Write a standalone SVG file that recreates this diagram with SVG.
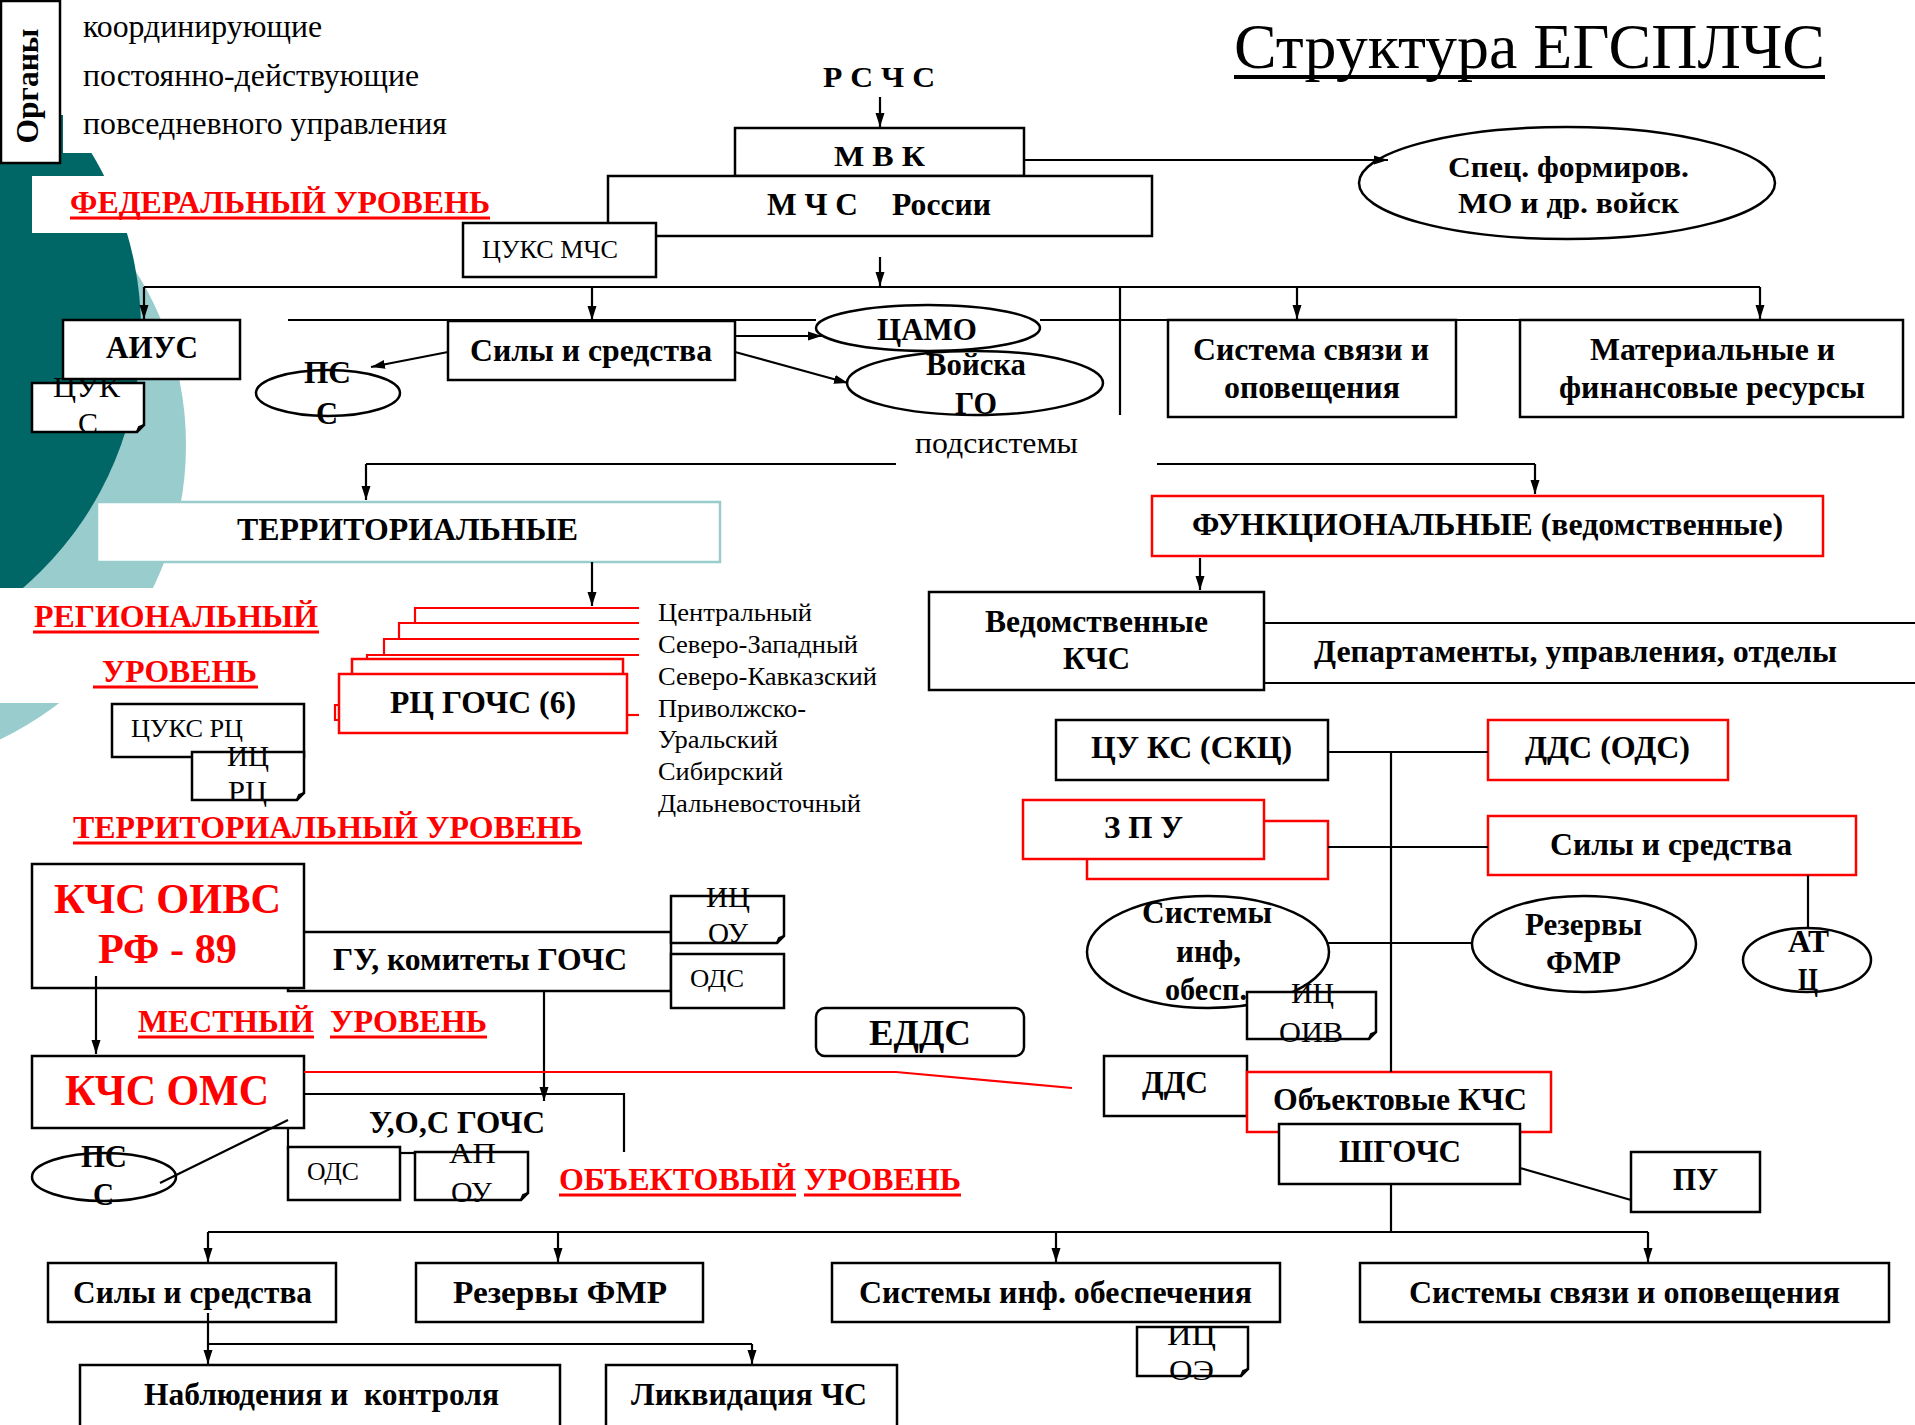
<svg xmlns="http://www.w3.org/2000/svg" width="1915" height="1425" viewBox="0 0 1915 1425">
<defs>
<style>
text{font-family:"Liberation Serif","Times New Roman",serif;font-weight:bold;font-size:31px;fill:#000}
.n{font-weight:normal}
.rd{fill:#f00}
.s26{font-size:26px}
.s30{font-size:30px}
.s32{font-size:32px}
.s36{font-size:36px}
.s42{font-size:42px}
.s44{font-size:44px}
.s64{font-size:64px}
.b{fill:#fff;stroke:#000;stroke-width:2.5}
.r{fill:#fff;stroke:#f00;stroke-width:2.5}
.tb{fill:#fff;stroke:#99cccc;stroke-width:2.5}
.c{fill:none;stroke:#000;stroke-width:2.2}
.cr{fill:none;stroke:#f00;stroke-width:2.2}
.a{marker-end:url(#ah)}
.u{stroke:#f00;stroke-width:3}
</style>
<marker id="ah" markerWidth="14" markerHeight="10" refX="14" refY="5" orient="auto" markerUnits="userSpaceOnUse"><path d="M0,0.5 L14,5 L0,9.5 Z" fill="#000"/></marker>
<clipPath id="cl"><rect x="0" y="153" width="400" height="435"/></clipPath>
</defs>

<g id="background">
<rect width="1915" height="1425" fill="#fff"/>
<circle cx="-140" cy="445" r="326" fill="#99cccc"/>
<circle cx="-200" cy="330" r="341" fill="#006666" clip-path="url(#cl)"/>
<rect x="55" y="115" width="8" height="40" fill="#006666"/>
<rect x="32" y="176" width="140" height="57" fill="#fff"/>
<rect x="0" y="588" width="220" height="115" fill="#fff"/>
</g>

<g id="organy"><rect class="b" x="1" y="1" width="59" height="162"/><text transform="translate(38,86) rotate(-90)" text-anchor="middle" textLength="115" lengthAdjust="spacingAndGlyphs">Органы</text></g>
<g id="legend">
<text class="n" x="83" y="37" textLength="239" lengthAdjust="spacingAndGlyphs">координирующие</text>
<text class="n" x="83" y="86" textLength="336" lengthAdjust="spacingAndGlyphs">постоянно-действующие</text>
<text class="n" x="83" y="134" textLength="364" lengthAdjust="spacingAndGlyphs">повседневного управления</text>
</g>
<g id="title"><text class="n s64" x="1234" y="68" textLength="591" lengthAdjust="spacingAndGlyphs">Структура ЕГСПЛЧС</text><line x1="1234" y1="77" x2="1825" y2="77" stroke="#000" stroke-width="4"/></g>

<g id="level-labels">
<text class="rd" x="70" y="213" textLength="420" lengthAdjust="spacingAndGlyphs">ФЕДЕРАЛЬНЫЙ УРОВЕНЬ</text><line class="u" x1="70" y1="218" x2="490" y2="218"/>
<text class="rd s32" x="34" y="627" textLength="284" lengthAdjust="spacingAndGlyphs">РЕГИОНАЛЬНЫЙ</text><line class="u" x1="33" y1="632" x2="319" y2="632"/>
<text class="rd s32" x="102" y="682" textLength="155" lengthAdjust="spacingAndGlyphs">УРОВЕНЬ</text><line class="u" x1="93" y1="687" x2="258" y2="687"/>
<text class="rd" x="73" y="838" textLength="509" lengthAdjust="spacingAndGlyphs">ТЕРРИТОРИАЛЬНЫЙ УРОВЕНЬ</text><line class="u" x1="73" y1="843" x2="582" y2="843"/>
<text class="rd" x="138" y="1032" textLength="176" lengthAdjust="spacingAndGlyphs">МЕСТНЫЙ</text><line class="u" x1="138" y1="1037" x2="314" y2="1037"/>
<text class="rd" x="330" y="1032" textLength="157" lengthAdjust="spacingAndGlyphs">УРОВЕНЬ</text><line class="u" x1="330" y1="1037" x2="487" y2="1037"/>
<text class="rd" x="559" y="1190" textLength="237" lengthAdjust="spacingAndGlyphs">ОБЪЕКТОВЫЙ</text><line class="u" x1="559" y1="1195" x2="796" y2="1195"/>
<text class="rd" x="804" y="1190" textLength="157" lengthAdjust="spacingAndGlyphs">УРОВЕНЬ</text><line class="u" x1="804" y1="1195" x2="961" y2="1195"/>
</g>

<g id="rschs"><text class="s30" x="823" y="87" textLength="112" lengthAdjust="spacingAndGlyphs">Р С Ч С</text></g>
<g id="mvk"><rect class="b" x="735" y="128" width="289" height="48"/><text class="s30" x="834" y="166" textLength="91" lengthAdjust="spacingAndGlyphs">М В К</text></g>
<g id="mchs"><rect class="b" x="608" y="176" width="544" height="60"/><text x="767" y="215" textLength="91" lengthAdjust="spacingAndGlyphs">М Ч С</text><text x="892" y="215" textLength="99" lengthAdjust="spacingAndGlyphs">России</text></g>
<g id="cuks-mchs"><rect class="b" x="463" y="223" width="193" height="54"/><text class="n s26" x="482" y="258" textLength="136" lengthAdjust="spacingAndGlyphs">ЦУКС МЧС</text></g>
<g id="spec"><ellipse class="b" cx="1567" cy="183" rx="208" ry="56"/><text class="s30" x="1448" y="177" textLength="241" lengthAdjust="spacingAndGlyphs">Спец. формиров.</text><text class="s30" x="1458" y="213" textLength="221" lengthAdjust="spacingAndGlyphs">МО и др. войск</text></g>

<g id="aius"><rect class="b" x="63" y="320" width="177" height="59"/><text x="106" y="358" textLength="92" lengthAdjust="spacingAndGlyphs">АИУС</text></g>
<g id="cuks"><path class="b" d="M32,383 H144 V425 L137,432 H32 Z"/><path class="c" d="M137,432 L139,427 L144,425"/><text class="n s30" x="53" y="397" textLength="67" lengthAdjust="spacingAndGlyphs">ЦУК</text><text class="n s30" x="78" y="433" textLength="20" lengthAdjust="spacingAndGlyphs">С</text></g>
<g id="pss-top"><ellipse class="b" cx="328" cy="393" rx="72" ry="23"/><text x="304" y="383" textLength="47" lengthAdjust="spacingAndGlyphs">ПС</text><text x="316" y="424" textLength="22" lengthAdjust="spacingAndGlyphs">С</text></g>
<g id="sily-top"><rect class="b" x="448" y="321" width="287" height="59"/><text x="470" y="361" textLength="242" lengthAdjust="spacingAndGlyphs">Силы и средства</text></g>
<g id="camo"><ellipse class="b" cx="928" cy="328" rx="112" ry="23"/><text x="877" y="340" textLength="100" lengthAdjust="spacingAndGlyphs">ЦАМО</text></g>
<g id="voyska"><ellipse class="b" cx="975" cy="383" rx="128" ry="32"/><text x="926" y="375" textLength="100" lengthAdjust="spacingAndGlyphs">Войска</text><text x="955" y="414" textLength="42" lengthAdjust="spacingAndGlyphs">ГО</text></g>
<g id="sistema-svyazi"><rect class="b" x="1168" y="320" width="288" height="97"/><text x="1193" y="360" textLength="236" lengthAdjust="spacingAndGlyphs">Система связи и</text><text x="1224" y="398" textLength="176" lengthAdjust="spacingAndGlyphs">оповещения</text></g>
<g id="material"><rect class="b" x="1520" y="320" width="383" height="97"/><text x="1590" y="360" textLength="245" lengthAdjust="spacingAndGlyphs">Материальные и</text><text x="1559" y="398" textLength="306" lengthAdjust="spacingAndGlyphs">финансовые ресурсы</text></g>

<g id="podsistemy"><text class="n s30" x="915" y="453" textLength="163" lengthAdjust="spacingAndGlyphs">подсистемы</text></g>
<g id="territ"><rect class="tb" x="97" y="502" width="623" height="60"/><text x="237" y="540" textLength="341" lengthAdjust="spacingAndGlyphs">ТЕРРИТОРИАЛЬНЫЕ</text></g>
<g id="rc-gochs">
<path class="cr" d="M415,623 V608 H639 M399,639 V623 H639 M384,655 V639 H639 M367,659 V655 H639"/>
<path class="r" d="M352,674 V659 H623 V674"/>
<rect class="r" x="339" y="674" width="288" height="59"/>
<path class="cr" d="M339,705 H335 V720 H339"/>
<text x="390" y="713" textLength="186" lengthAdjust="spacingAndGlyphs">РЦ ГОЧС (6)</text>
</g>
<g id="regions">
<text class="n s26" x="658" y="621" textLength="154" lengthAdjust="spacingAndGlyphs">Центральный</text>
<text class="n s26" x="658" y="653" textLength="200" lengthAdjust="spacingAndGlyphs">Северо-Западный</text>
<text class="n s26" x="658" y="685" textLength="219" lengthAdjust="spacingAndGlyphs">Северо-Кавказский</text>
<text class="n s26" x="658" y="717" textLength="148" lengthAdjust="spacingAndGlyphs">Приволжско-</text>
<text class="n s26" x="658" y="748" textLength="120" lengthAdjust="spacingAndGlyphs">Уральский</text>
<text class="n s26" x="658" y="780" textLength="125" lengthAdjust="spacingAndGlyphs">Сибирский</text>
<text class="n s26" x="658" y="812" textLength="203" lengthAdjust="spacingAndGlyphs">Дальневосточный</text>
</g>
<g id="cuks-rc"><rect class="b" x="112" y="704" width="192" height="53"/><text class="n s26" x="131" y="737" textLength="112" lengthAdjust="spacingAndGlyphs">ЦУКС РЦ</text></g>
<g id="ic-rc"><path class="b" d="M192,752 H304 V793 L297,800 H192 Z"/><path class="c" d="M297,800 L299,795 L304,793"/><text class="n s30" x="227" y="766" textLength="42" lengthAdjust="spacingAndGlyphs">ИЦ</text><text class="n s30" x="228" y="801" textLength="39" lengthAdjust="spacingAndGlyphs">РЦ</text></g>

<g id="gu"><rect class="b" x="288" y="932" width="383" height="59"/><text x="333" y="970" textLength="294" lengthAdjust="spacingAndGlyphs">ГУ, комитеты ГОЧС</text></g>
<g id="kchs-oivs"><rect class="b" x="32" y="864" width="272" height="124"/><text class="rd s42" x="54" y="913" textLength="227" lengthAdjust="spacingAndGlyphs">КЧС ОИВС</text><text class="rd s42" x="98" y="963" textLength="139" lengthAdjust="spacingAndGlyphs">РФ - 89</text></g>
<g id="ic-ou"><path class="b" d="M671,896 H784 V936 L777,943 H671 Z"/><path class="c" d="M777,943 L779,938 L784,936"/><text class="n s30" x="706" y="907" textLength="44" lengthAdjust="spacingAndGlyphs">ИЦ</text><text class="n s30" x="708" y="943" textLength="40" lengthAdjust="spacingAndGlyphs">ОУ</text></g>
<g id="ods-top"><rect class="b" x="671" y="954" width="113" height="54"/><text class="n s26" x="690" y="987" textLength="54" lengthAdjust="spacingAndGlyphs">ОДС</text></g>
<g id="uos"><path class="c" stroke-width="2.5" d="M288,1150 V1094 H624 V1152"/><text x="369" y="1133" textLength="176" lengthAdjust="spacingAndGlyphs">У,О,С ГОЧС</text></g>
<g id="kchs-oms"><rect class="b" x="32" y="1056" width="272" height="72"/><text class="rd s44" x="65" y="1105" textLength="204" lengthAdjust="spacingAndGlyphs">КЧС ОМС</text></g>
<g id="pss-bottom"><ellipse class="b" cx="104" cy="1177" rx="72" ry="24"/><text x="81" y="1167" textLength="46" lengthAdjust="spacingAndGlyphs">ПС</text><text x="93" y="1205" textLength="21" lengthAdjust="spacingAndGlyphs">С</text></g>
<g id="ods-bottom"><rect class="b" x="288" y="1147" width="112" height="53"/><text class="n s26" x="307" y="1180" textLength="52" lengthAdjust="spacingAndGlyphs">ОДС</text></g>
<g id="ap-ou"><path class="b" d="M415,1152 H528 V1193 L521,1200 H415 Z"/><path class="c" d="M521,1200 L523,1195 L528,1193"/><text class="n s30" x="449" y="1163" textLength="47" lengthAdjust="spacingAndGlyphs">АП</text><text class="n s30" x="451" y="1202" textLength="41" lengthAdjust="spacingAndGlyphs">ОУ</text></g>
<g id="edds"><rect class="b" x="816" y="1008" width="208" height="48" rx="9"/><text class="s36" x="869" y="1045" textLength="102" lengthAdjust="spacingAndGlyphs">ЕДДС</text></g>

<g id="funk"><rect class="r" x="1152" y="496" width="671" height="60"/><text x="1192" y="535" textLength="591" lengthAdjust="spacingAndGlyphs">ФУНКЦИОНАЛЬНЫЕ (ведомственные)</text></g>
<g id="vedom"><rect class="b" x="929" y="592" width="335" height="98"/><text x="985" y="632" textLength="223" lengthAdjust="spacingAndGlyphs">Ведомственные</text><text x="1063" y="669" textLength="67" lengthAdjust="spacingAndGlyphs">КЧС</text></g>
<g id="departamenty"><path class="c" stroke-width="2.5" d="M1264,623 H1915 M1264,683 H1915"/><text x="1314" y="662" textLength="523" lengthAdjust="spacingAndGlyphs">Департаменты, управления, отделы</text></g>
<g id="cu-ks"><rect class="b" x="1056" y="720" width="272" height="60"/><text x="1091" y="758" textLength="201" lengthAdjust="spacingAndGlyphs">ЦУ КС (СКЦ)</text></g>
<g id="dds-ods"><rect class="r" x="1488" y="720" width="240" height="60"/><text x="1525" y="758" textLength="165" lengthAdjust="spacingAndGlyphs">ДДС (ОДС)</text></g>
<g id="zpu"><rect class="r" x="1087" y="821" width="241" height="58"/><rect class="r" x="1023" y="800" width="241" height="59"/><text x="1104" y="838" textLength="79" lengthAdjust="spacingAndGlyphs">З П У</text></g>
<g id="sily-right"><rect class="r" x="1488" y="816" width="368" height="59"/><text x="1550" y="855" textLength="242" lengthAdjust="spacingAndGlyphs">Силы и средства</text></g>
<g id="atc"><ellipse class="b" cx="1807" cy="960" rx="64" ry="32"/><text x="1788" y="952" textLength="41" lengthAdjust="spacingAndGlyphs">АТ</text><text x="1798" y="990" textLength="20" lengthAdjust="spacingAndGlyphs">Ц</text></g>
<g id="sistemy-inf"><ellipse class="b" cx="1208" cy="952" rx="121" ry="56"/><text x="1142" y="923" textLength="130" lengthAdjust="spacingAndGlyphs">Системы</text><text x="1176" y="962" textLength="65" lengthAdjust="spacingAndGlyphs">инф,</text><text x="1165" y="1000" textLength="82" lengthAdjust="spacingAndGlyphs">обесп.</text></g>
<g id="ic-oiv"><path class="b" d="M1247,992 H1376 V1032 L1369,1039 H1247 Z"/><path class="c" d="M1369,1039 L1371,1034 L1376,1032"/><text class="n s30" x="1291" y="1003" textLength="43" lengthAdjust="spacingAndGlyphs">ИЦ</text><text class="n s30" x="1279" y="1042" textLength="64" lengthAdjust="spacingAndGlyphs">ОИВ</text></g>
<g id="rezervy-right"><ellipse class="b" cx="1584" cy="944" rx="112" ry="48"/><text x="1525" y="935" textLength="117" lengthAdjust="spacingAndGlyphs">Резервы</text><text x="1546" y="973" textLength="75" lengthAdjust="spacingAndGlyphs">ФМР</text></g>
<g id="dds-bottom"><rect class="b" x="1104" y="1056" width="143" height="60"/><text x="1142" y="1093" textLength="66" lengthAdjust="spacingAndGlyphs">ДДС</text></g>
<g id="obj-kchs"><rect class="r" x="1247" y="1072" width="304" height="60"/><text x="1273" y="1110" textLength="254" lengthAdjust="spacingAndGlyphs">Объектовые КЧС</text></g>
<g id="shgochs"><rect class="b" x="1279" y="1124" width="241" height="60"/><text x="1339" y="1162" textLength="122" lengthAdjust="spacingAndGlyphs">ШГОЧС</text></g>
<g id="pu"><rect class="b" x="1631" y="1152" width="129" height="60"/><text x="1673" y="1190" textLength="45" lengthAdjust="spacingAndGlyphs">ПУ</text></g>

<g id="sily-bottom"><rect class="b" x="48" y="1263" width="288" height="59"/><text x="73" y="1303" textLength="239" lengthAdjust="spacingAndGlyphs">Силы и средства</text></g>
<g id="rezervy-bottom"><rect class="b" x="416" y="1263" width="287" height="59"/><text x="453" y="1303" textLength="214" lengthAdjust="spacingAndGlyphs">Резервы ФМР</text></g>
<g id="sistemy-inf-bottom"><rect class="b" x="832" y="1263" width="448" height="59"/><text x="859" y="1303" textLength="393" lengthAdjust="spacingAndGlyphs">Системы инф. обеспечения</text></g>
<g id="sistemy-svyazi-bottom"><rect class="b" x="1360" y="1263" width="529" height="59"/><text x="1409" y="1303" textLength="431" lengthAdjust="spacingAndGlyphs">Системы связи и оповещения</text></g>
<g id="ic-oe"><path class="b" d="M1137,1327 H1248 V1369 L1241,1376 H1137 Z"/><path class="c" d="M1241,1376 L1243,1371 L1248,1369"/><text class="n s30" x="1167" y="1345" textLength="49" lengthAdjust="spacingAndGlyphs">ИЦ</text><text class="n s30" x="1169" y="1380" textLength="45" lengthAdjust="spacingAndGlyphs">ОЭ</text></g>
<g id="nablyudeniya"><rect class="b" x="80" y="1365" width="480" height="70"/><text x="144" y="1405" textLength="355" lengthAdjust="spacingAndGlyphs">Наблюдения и&#160; контроля</text></g>
<g id="likvidaciya"><rect class="b" x="606" y="1365" width="291" height="70"/><text x="631" y="1405" textLength="236" lengthAdjust="spacingAndGlyphs">Ликвидация ЧС</text></g>

<g id="connectors">
<path class="c a" d="M880,97 V127"/>
<path class="c a" d="M1024,160 H1388"/>
<path class="c a" d="M880,257 V286"/>
<path class="c" d="M144,287 H1760"/>
<path class="c a" d="M144,287 V319"/>
<path class="c a" d="M592,287 V320"/>
<path class="c a" d="M1297,287 V319"/>
<path class="c a" d="M1760,287 V319"/>
<path class="c" d="M1120,287 V415"/>
<path class="c" d="M288,320 H816 M1040,320 H1822"/>
<path class="c a" d="M448,352 L371,367"/>
<path class="c a" d="M735,336 H822"/>
<path class="c a" d="M735,352 L848,383"/>
<path class="c" d="M366,464 H896 M1157,464 H1535"/>
<path class="c a" d="M366,464 V500"/>
<path class="c a" d="M1535,464 V494"/>
<path class="c a" d="M592,562 V606"/>
<path class="cr" d="M627,715 H639"/>
<path class="c a" d="M1200,558 V590"/>
<path class="c a" d="M96,976 V1054"/>
<path class="c a" d="M544,992 V1101"/>
<path class="c" d="M400,1153 H415"/>
<path class="cr" d="M304,1072 H896 L1072,1088"/>
<path class="c" d="M160,1183 L288,1120"/>
<path class="c" d="M1328,752 H1488"/>
<path class="c" d="M1391,752 V1072"/>
<path class="c" d="M1328,847 H1488"/>
<path class="c" d="M1328,943 H1472"/>
<path class="c" d="M1808,875 V928"/>
<path class="c" d="M1520,1168 L1631,1200"/>
<path class="c" d="M1391,1184 V1232"/>
<path class="c" d="M208,1232 H1648"/>
<path class="c a" d="M208,1232 V1262"/>
<path class="c a" d="M558,1232 V1262"/>
<path class="c a" d="M1056,1232 V1262"/>
<path class="c a" d="M1648,1232 V1262"/>
<path class="c a" d="M208,1313 V1364"/>
<path class="c" d="M208,1344 H752"/>
<path class="c a" d="M752,1344 V1364"/>
</g>
</svg>
